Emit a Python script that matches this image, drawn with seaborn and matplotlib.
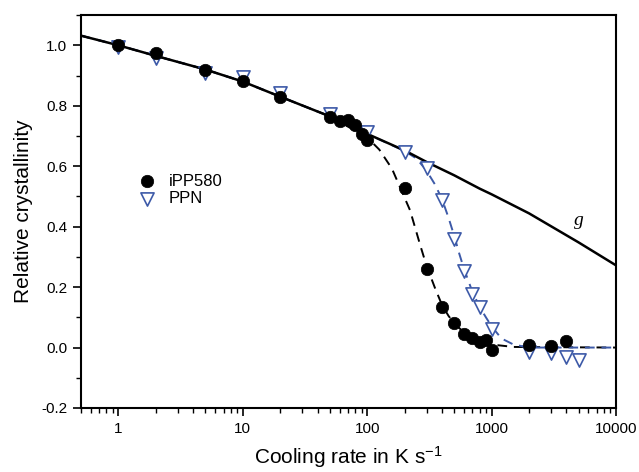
import numpy as np
import pandas as pd
import matplotlib
matplotlib.use("Agg")
import matplotlib.pyplot as plt
import seaborn as sns
from matplotlib.ticker import LogLocator, MultipleLocator, FixedLocator, NullFormatter

# ---- data ----
ipp_rate = [1, 2, 5, 10, 20, 50, 60, 70, 80, 90, 100, 200, 300, 400, 500, 600, 700, 800, 900, 1000, 2000, 3000, 4000]
ipp_x = [1.0, 0.976, 0.919, 0.881, 0.828, 0.762, 0.751, 0.754, 0.735, 0.707, 0.688, 0.529, 0.261, 0.134, 0.081, 0.046, 0.030, 0.019, 0.026, -0.007, 0.010, 0.004, 0.022]

ppn_rate = [1, 2, 5, 10, 20, 50, 100, 200, 300, 400, 500, 600, 700, 800, 1000, 2000, 3000, 4000, 5000]
ppn_x = [0.993, 0.958, 0.910, 0.894, 0.842, 0.772, 0.713, 0.647, 0.595, 0.489, 0.358, 0.253, 0.178, 0.134, 0.063, -0.015, -0.018, -0.031, -0.040]

g_rate = [0.5, 1, 2, 5, 10, 20, 50, 100, 200, 300, 500, 800, 1000, 2000, 5000, 10000]
g_x = [1.032, 1.0, 0.965, 0.92, 0.88, 0.83, 0.765, 0.707, 0.652, 0.614, 0.57, 0.526, 0.507, 0.444, 0.348, 0.272]

ipp_fit_rate = [0.5, 1, 2, 5, 10, 20, 50, 100, 125, 158, 200, 221, 267, 300, 352, 400, 450, 500, 600, 700, 800, 1000, 1500, 10000]
ipp_fit_x = [1.032, 1.0, 0.965, 0.92, 0.88, 0.83, 0.765, 0.695, 0.655, 0.592, 0.495, 0.454, 0.338, 0.27, 0.195, 0.14, 0.105, 0.08, 0.05, 0.033, 0.022, 0.01, 0.002, 0.0]

ppn_fit_rate = [0.5, 1, 2, 5, 10, 20, 50, 100, 200, 250, 300, 350, 400, 450, 500, 550, 600, 700, 800, 900, 1000, 1200, 1500, 2000, 10000]
ppn_fit_x = [1.032, 1.0, 0.965, 0.92, 0.88, 0.83, 0.765, 0.707, 0.65, 0.625, 0.585, 0.54, 0.49, 0.43, 0.37, 0.31, 0.26, 0.185, 0.135, 0.10, 0.07, 0.03, 0.01, 0.0, 0.0]

blue = "#3D5AA8"

sns.set_style("ticks")
plt.rcParams["font.family"] = ["Liberation Sans", "DejaVu Sans"]
plt.rcParams["mathtext.fontset"] = "custom"
plt.rcParams["mathtext.rm"] = "Liberation Sans"
plt.rcParams["mathtext.it"] = "Liberation Sans:italic"
for k in ["text.color", "axes.labelcolor", "xtick.color", "ytick.color"]:
    plt.rcParams[k] = "black"

fig = plt.figure(figsize=(6.39, 4.72), dpi=100)
ax = fig.add_axes([0.1268, 0.1356, 0.8372, 0.8324])

df_ipp = pd.DataFrame({"rate": ipp_rate, "xc": ipp_x})
df_ppn = pd.DataFrame({"rate": ppn_rate, "xc": ppn_x})
df_g = pd.DataFrame({"rate": g_rate, "xc": g_x})
df_ifit = pd.DataFrame({"rate": ipp_fit_rate, "xc": ipp_fit_x})
df_pfit = pd.DataFrame({"rate": ppn_fit_rate, "xc": ppn_fit_x})

ax.set_xscale("log")

sns.lineplot(data=df_ifit, x="rate", y="xc", ax=ax, color="black", lw=1.4,
             linestyle=(0, (5, 3.5)), sort=False, zorder=2)
sns.lineplot(data=df_pfit, x="rate", y="xc", ax=ax, color=blue, lw=1.4,
             linestyle=(0, (5, 3.5)), sort=False, zorder=2.2)
sns.lineplot(data=df_g, x="rate", y="xc", ax=ax, color="black", lw=1.8,
             sort=False, zorder=2.5)

sns.scatterplot(data=df_ppn, x="rate", y="xc", ax=ax, marker="v", s=90,
                facecolor="white", edgecolor=blue, linewidth=1.2, zorder=3,
                label="PPN")
sns.scatterplot(data=df_ipp, x="rate", y="xc", ax=ax, marker="o", s=80,
                color="black", edgecolor="black", linewidth=0.5, zorder=4,
                label="iPP580")

ax.text(5000, 0.42, "g", fontsize=14, style="italic",
        family=["Liberation Serif", "DejaVu Serif"], ha="center", va="center")

ax.set_xlim(0.5, 10000)
ax.set_ylim(-0.2, 1.1)
ax.xaxis.set_major_locator(FixedLocator([1, 10, 100, 1000, 10000]))
ax.set_xticklabels(["1", "10", "100", "1000", "10000"])
ax.xaxis.set_minor_locator(LogLocator(base=10, subs=np.arange(2, 10), numticks=20))
ax.xaxis.set_minor_formatter(NullFormatter())
ax.yaxis.set_minor_locator(MultipleLocator(0.1))
ax.set_yticks([-0.2, 0.0, 0.2, 0.4, 0.6, 0.8, 1.0])
ax.set_yticklabels(["-0.2", "0.0", "0.2", "0.4", "0.6", "0.8", "1.0"])

ax.tick_params(which="major", direction="out", length=6, width=1.2, labelsize=11,
               top=False, right=False, pad=4)
ax.tick_params(which="minor", direction="out", length=3.5, width=1.0,
               top=False, right=False)
for sp in ax.spines.values():
    sp.set_visible(True)
    sp.set_linewidth(1.5)
    sp.set_color("black")

ax.set_xlabel("Cooling rate in K s$^{\\mathregular{-1}}$", fontsize=15, labelpad=6)
ax.set_ylabel("Relative crystallinity", fontsize=15, labelpad=6)

h, l = ax.get_legend_handles_labels()
order = [l.index("iPP580"), l.index("PPN")]
ax.legend([h[i] for i in order], [l[i] for i in order], loc="center left",
          bbox_to_anchor=(0.08, 0.555), frameon=False, fontsize=12,
          handletextpad=0.3, labelspacing=0.15, borderaxespad=0)

fig.savefig("out.png", dpi=100)
